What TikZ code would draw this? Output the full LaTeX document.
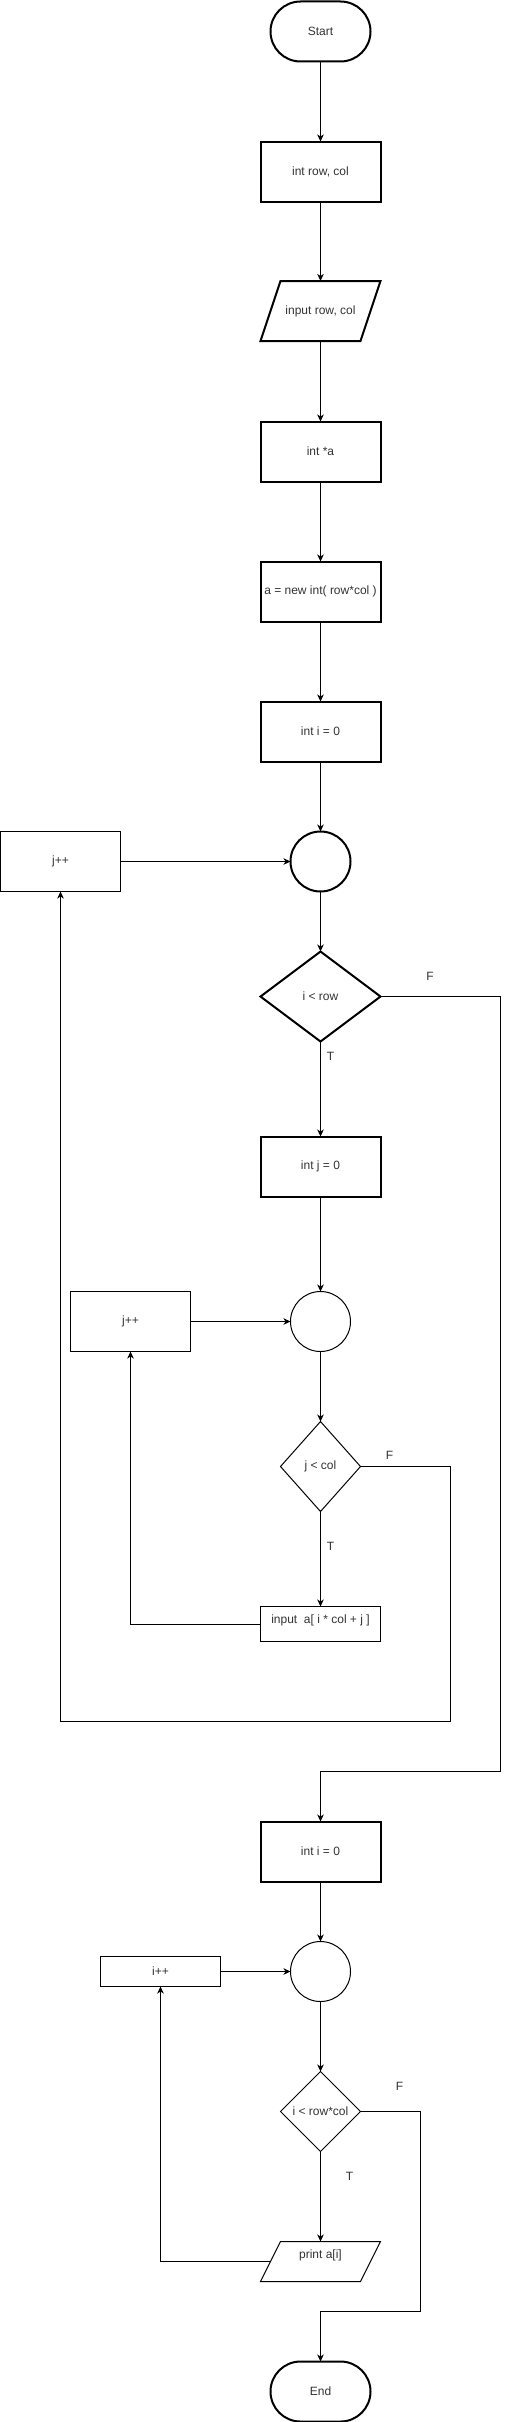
\documentclass[tikz,border=0pt]{standalone}
\usepackage{fontspec}
\setmainfont{Liberation Sans}
\usetikzlibrary{shapes.geometric,arrows.meta}
\definecolor{txt}{HTML}{333333}
\tikzset{
  base/.style={font=\fontsize{12}{14}\selectfont, text=txt, inner sep=0pt, outer sep=0pt},
  thick box/.style={base, draw=black, line width=2pt, rectangle, minimum width=120pt, minimum height=60pt},
  thin box/.style={base, draw=black, line width=1pt, rectangle, minimum width=120pt, minimum height=60pt},
  term/.style={base, draw=black, line width=2pt, rectangle, rounded corners=30pt, minimum width=100pt, minimum height=60pt},
  iobox/.style={base, rectangle, minimum width=100pt},
  junction/.style={base, draw=black, circle, minimum size=60pt},
  decision/.style={base, draw=black, diamond},
  lbl/.style={base},
  conn/.style={draw=black, line width=1pt, -{Stealth[length=7pt,width=6.5pt,inset=2pt]}},
  plainconn/.style={draw=black, line width=1pt}
}
\begin{document}
\begin{tikzpicture}[x=1pt,y=-1pt]
\fill[white] (0,0) rectangle (509,2422);
\useasboundingbox (0,0) rectangle (509,2422);

% nodes
\node[term] (start) at (320.5,31.5) {Start};
\node[thick box] (n1) at (320.5,171.5) {int row, col};
\node[iobox, minimum height=60pt] (n2) at (320.5,311) {input row, col};
\draw[line width=2pt, line join=miter] ([xshift=10pt]n2.north west) -- ([xshift=10pt]n2.north east) -- ([xshift=-10pt]n2.south east) -- ([xshift=-10pt]n2.south west) -- cycle;
\node[thick box] (n3) at (320.5,451.5) {int *a};
\node[thick box] (n4) at (320.5,591.5) {a = new int( row*col )};
\node[thick box] (n5) at (320.5,731.5) {int i = 0};
\node[junction, line width=2pt] (c1) at (320.5,861.5) {};
\node[thin box] (jpp1) at (60.5,861.5) {j++};
\node[decision, line width=2pt, minimum width=120pt, minimum height=90pt] (d1) at (320.5,996.5) {i < row};
\node[thick box] (n6) at (320.5,1166.5) {int j = 0};
\node[junction, line width=1pt] (c2) at (320.5,1321.5) {};
\node[thin box] (jpp2) at (130.5,1321.5) {j++};
\node[decision, line width=1pt, minimum width=80pt, minimum height=90pt] (d2) at (320.5,1466.5) {j < col};
\node[thin box, minimum height=35pt] (n7) at (320.5,1624) {\raisebox{4pt}[\height][\depth]{input~~a[ i * col + j ]}};
\node[thick box] (n8) at (320.5,1851.5) {int i = 0};
\node[junction, line width=1pt] (c3) at (320.5,1971.5) {};
\node[thin box, minimum height=30pt] (ipp) at (160.5,1971.5) {i++};
\node[decision, line width=1pt, minimum width=80pt, minimum height=80pt] (d3) at (320.5,2111.5) {i < row*col};
\node[iobox, minimum height=40pt] (n9) at (320.5,2261.5) {\raisebox{6pt}[\height][\depth]{print a[i]}};
\draw[line width=1pt, line join=miter] ([xshift=10pt]n9.north west) -- ([xshift=10pt]n9.north east) -- ([xshift=-10pt]n9.south east) -- ([xshift=-10pt]n9.south west) -- cycle;
\node[term] (end) at (320.5,2391.5) {End};

% labels
\node[lbl] (fa) at (430,976) {F};
\node[lbl] (ta) at (330.5,1056) {T};
\node[lbl] (fb) at (389.5,1455.5) {F};
\node[lbl] (tb) at (330.5,1546) {T};
\node[lbl] (fc) at (399.5,2086) {F};
\node[lbl] (tc) at (349.5,2176) {T};

% connectors
\draw[conn] (start) -- (n1);
\draw[conn] (n1) -- (n2);
\draw[conn] (n2) -- (n3);
\draw[conn] (n3) -- (n4);
\draw[conn] (n4) -- (n5);
\draw[conn] (n5) -- (c1);
\draw[conn] (jpp1) -- (c1);
\draw[conn] (c1) -- (d1);
\draw[conn] (d1) -- (n6);
\draw[conn] (d1.east) -- (500.5,996.5) -- (500.5,1771) -- (320.5,1771) -- (n8.north);
\draw[conn] (n6) -- (c2);
\draw[conn] (jpp2) -- (c2);
\draw[conn] (c2) -- (d2);
\draw[conn] (d2) -- (n7);
\draw[conn] (d2.east) -- (450.5,1466.5) -- (450.5,1721) -- (60.5,1721) -- (jpp1.south);
\draw[conn] (n7.west) -- (130.5,1624) -- (jpp2.south);
\draw[conn] (n8) -- (c3);
\draw[conn] (ipp) -- (c3);
\draw[conn] (c3) -- (d3);
\draw[conn] (d3) -- (n9);
\draw[conn] (d3.east) -- (420.5,2111.5) -- (420.5,2311) -- (320.5,2311) -- (end.north);
\draw[conn] (n9.west) -- (160.5,2261.5) -- (ipp.south);
\end{tikzpicture}
\end{document}
